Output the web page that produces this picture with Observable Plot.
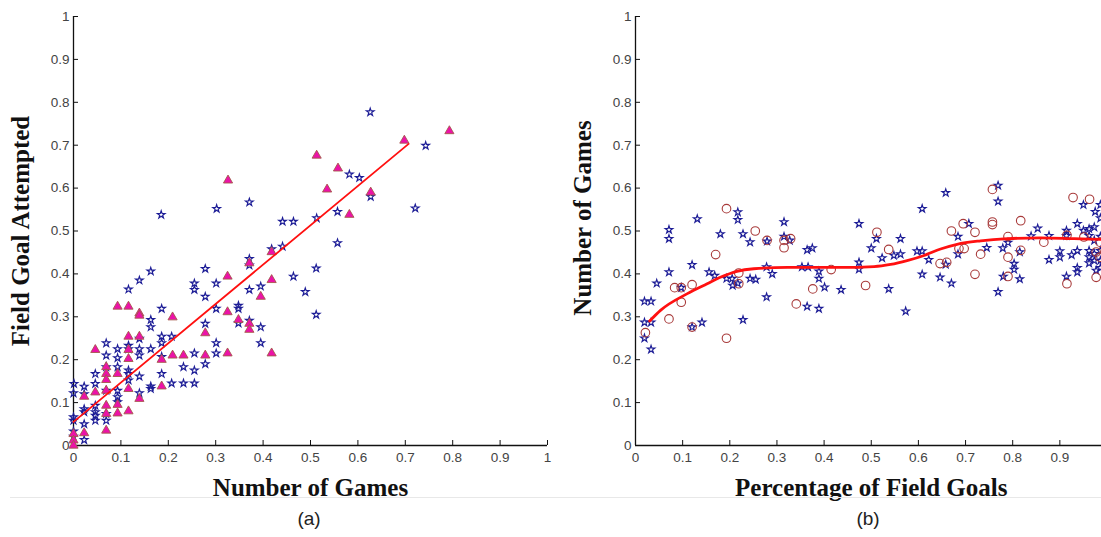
<!DOCTYPE html>
<html><head><meta charset="utf-8">
<script src="https://cdn.jsdelivr.net/npm/d3@7"></script>
<script src="https://cdn.jsdelivr.net/npm/@observablehq/plot@0.6"></script>
<style>
html,body{margin:0;padding:0;background:#fff;}
#fig{position:relative;width:1101px;height:537px;overflow:hidden;background:#fff;}
#pa,#pb{position:absolute;top:0;width:560px;height:500px;}
#pa svg,#pb svg{max-width:none !important;}
#pa{left:0;} #pb{left:560px;}
.sep{position:absolute;top:497px;height:1px;background:#e8e8e8;}
.cap{position:absolute;top:508px;font:19px "Liberation Sans",Arial,sans-serif;color:#222;transform:translateX(-50%);white-space:nowrap;}
</style></head><body>
<div id="fig">
 <div id="pa"></div><div id="pb"></div>
 <div class="sep" style="left:10px;width:1091px"></div>
 <div class="cap" style="left:309px">(a)</div>
 <div class="cap" style="left:868px">(b)</div>
</div>
<script>
const tickValues = [0,0.1,0.2,0.3,0.4,0.5,0.6,0.7,0.8,0.9,1];
// panel (b)'s x-axis is cut at the figure's right edge: its "1" is not shown
const bXTickValues = [0,0.1,0.2,0.3,0.4,0.5,0.6,0.7,0.8,0.9];

// Panel (a)
const aXTitle = "Number of Games";
const aYTitle = "Field Goal Attempted";
const aStars = [
[0.001,0.144],[0,0.122],[0,0.066],[0,0.058],[0,0.033],[0,0.021],
[0.0225,0.1375],[0.0225,0.12],[0.0225,0.085],[0.0225,0.078],[0.0225,0.05],[0.0225,0.013],
[0.046,0.167],[0.046,0.144],[0.046,0.093],[0.046,0.078],[0.046,0.07],[0.046,0.058],
[0.069,0.2385],[0.069,0.21],[0.069,0.183],[0.069,0.128],[0.069,0.074],[0.069,0.058],
[0.093,0.225],[0.093,0.204],[0.093,0.183],[0.093,0.128],[0.093,0.113],[0.093,0.101],
[0.116,0.364],[0.116,0.233],[0.116,0.225],[0.116,0.175],[0.116,0.167],[0.116,0.152],
[0.139,0.385],[0.139,0.249],[0.139,0.225],[0.139,0.21],[0.139,0.161],[0.139,0.122],
[0.163,0.406],[0.163,0.293],[0.163,0.276],[0.163,0.225],[0.163,0.138],[0.163,0.132],
[0.186,0.319],[0.186,0.254],[0.186,0.239],[0.186,0.207],[0.186,0.167],
[0.207,0.254],[0.207,0.145],[0.232,0.183],[0.232,0.145],
[0.255,0.378],[0.255,0.363],[0.255,0.215],[0.255,0.175],[0.255,0.145],
[0.278,0.412],[0.278,0.347],[0.278,0.284],[0.278,0.19],
[0.301,0.378],[0.301,0.319],[0.301,0.239],[0.301,0.215],
[0.348,0.326],[0.348,0.319],[0.348,0.285],
[0.371,0.435],[0.371,0.42],[0.371,0.363],[0.371,0.291],
[0.395,0.371],[0.395,0.276],[0.395,0.239],
[0.418,0.458],[0.441,0.464],[0.441,0.522],[0.464,0.522],[0.464,0.394],[0.489,0.358],
[0.512,0.413],[0.512,0.305],[0.513,0.530],[0.557,0.545],[0.557,0.472],[0.582,0.632],
[0.603,0.624],[0.627,0.580],[0.626,0.777],[0.721,0.553],[0.743,0.699],
[0.185,0.538],[0.302,0.552],[0.371,0.567]
];
const aTriangles = [
[0,0.027],[0,0.012],[0,0],
[0.0225,0.114],[0.0225,0.029],
[0.046,0.223],[0.046,0.124],
[0.069,0.183],[0.069,0.167],[0.069,0.153],[0.069,0.128],[0.069,0.093],[0.069,0.074],[0.069,0.035],
[0.093,0.324],[0.093,0.167],[0.093,0.095],[0.093,0.075],
[0.116,0.324],[0.116,0.254],[0.116,0.223],[0.116,0.202],[0.116,0.132],[0.116,0.08],
[0.139,0.308],[0.139,0.303],[0.139,0.254],[0.139,0.109],
[0.186,0.2],[0.186,0.138],[0.209,0.299],[0.209,0.21],[0.232,0.21],
[0.278,0.262],[0.278,0.21],[0.325,0.394],[0.325,0.311],[0.325,0.215],[0.348,0.293],
[0.371,0.425],[0.371,0.284],[0.371,0.27],[0.395,0.347],
[0.418,0.451],[0.418,0.386],[0.418,0.215],
[0.326,0.618],[0.513,0.676],[0.558,0.646],[0.535,0.597],[0.627,0.590],[0.582,0.538],
[0.698,0.711],[0.793,0.733]
];
const aFitX = [0, 0.707];
const aFitY = [0.055, 0.703];

// Panel (b)
const bXTitle = "Percentage of Field Goals";
const bYTitle = "Number of Games";
const bStars = [
[0.019,0.336],[0.033,0.336],[0.045,0.378],[0.071,0.503],[0.071,0.482],[0.071,0.404],
[0.12,0.421],[0.131,0.528],[0.156,0.404],[0.168,0.396],[0.18,0.493],[0.193,0.389],
[0.205,0.389],[0.206,0.373],[0.217,0.544],[0.217,0.526],[0.217,0.378],[0.228,0.493],
[0.243,0.474],[0.243,0.389],[0.255,0.387],[0.278,0.346],[0.278,0.416],[0.279,0.476],
[0.29,0.40],[0.315,0.521],[0.315,0.487],[0.327,0.478],[0.353,0.416],[0.364,0.456],
[0.375,0.46],[0.366,0.416],[0.389,0.406],[0.389,0.389],[0.401,0.369],[0.436,0.363],
[0.364,0.324],[0.389,0.319],[0.474,0.517],[0.474,0.427],[0.474,0.411],
[0.019,0.287],[0.033,0.287],[0.019,0.25],[0.033,0.224],[0.12,0.276],[0.141,0.287],
[0.228,0.293],[0.097,0.368],
[0.511,0.482],[0.5,0.46],[0.523,0.437],[0.548,0.443],[0.562,0.482],[0.562,0.446],
[0.537,0.365],[0.573,0.313],[0.608,0.552],[0.597,0.453],[0.608,0.453],[0.622,0.433],
[0.608,0.399],[0.646,0.392],[0.658,0.589],[0.658,0.422],[0.670,0.378],[0.684,0.487],
[0.684,0.446],[0.707,0.517],[0.745,0.461],[0.769,0.606],[0.769,0.569],[0.769,0.358],
[0.779,0.46],[0.79,0.473],[0.803,0.424],[0.803,0.41],[0.78,0.394],[0.815,0.451],
[0.815,0.388],[0.839,0.488],[0.853,0.506],[0.877,0.489],[0.877,0.433],[0.9,0.453],
[0.9,0.439],[0.914,0.501],[0.914,0.489],[0.914,0.394],[0.925,0.444],[0.937,0.517],
[0.937,0.454],[0.937,0.414],[0.937,0.404],[0.95,0.561],[0.95,0.501],[0.962,0.505],
[0.962,0.489],[0.962,0.454],[0.962,0.439],[0.962,0.425],[0.973,0.509],[0.973,0.478],
[0.973,0.447],[0.973,0.431],[0.975,0.545],[0.977,0.408],[0.986,0.561],[0.986,0.53],
[0.986,0.487],[0.986,0.454],[0.986,0.431],[0.986,0.414]
];
const bCircles = [
[0.193,0.552],[0.17,0.445],[0.083,0.368],[0.097,0.368],[0.12,0.375],[0.097,0.334],
[0.219,0.402],[0.219,0.377],[0.254,0.50],[0.279,0.478],[0.315,0.478],[0.315,0.461],
[0.329,0.482],[0.341,0.33],[0.376,0.365],[0.415,0.41],
[0.021,0.263],[0.071,0.295],[0.12,0.276],[0.193,0.25],
[0.488,0.373],[0.512,0.497],[0.537,0.457],[0.646,0.424],[0.660,0.427],[0.67,0.50],
[0.686,0.459],[0.697,0.459],[0.695,0.517],[0.72,0.497],[0.72,0.399],[0.732,0.446],
[0.757,0.597],[0.757,0.521],[0.757,0.515],[0.79,0.487],[0.79,0.439],[0.79,0.394],
[0.817,0.524],[0.817,0.455],[0.866,0.474],[0.915,0.49],[0.915,0.377],[0.928,0.578],
[0.963,0.574],[0.951,0.486],[0.977,0.451],[0.985,0.474],[0.977,0.392],[0.985,0.439]
];
const bCurveX = [0.03,0.053,0.11,0.152,0.18,0.215,0.251,0.322,0.435,0.506,0.541,0.576,0.612,0.647,0.682,0.732,0.789,0.859,0.93,1.0];
const bCurveY = [0.29,0.315,0.354,0.377,0.392,0.406,0.412,0.415,0.415,0.417,0.422,0.431,0.443,0.458,0.469,0.477,0.482,0.484,0.482,0.48];

const toPts = arr => arr.map(([x, y]) => ({x, y}));
const zipXY = (xs, ys) => xs.map((x, i) => ({x, y: ys[i]}));

const STAR = {symbol: "star", r: 2.4, stroke: "#1c1c96", fill: "none", strokeWidth: 1.15};
const TITLE = {fontSize: 25, fontWeight: "bold", fontFamily: "Liberation Serif, Times New Roman, serif", fill: "#111", textAnchor: "middle", lineAnchor: "middle"};

function panel({marginLeft, marginRight, points, line, lineWidth, curve, xTitle, yTitle, yTitleDy, xTicks}) {
  const plotH = 429;
  const plotW = 560 - marginLeft - marginRight;
  return Plot.plot({
    width: 560, height: 500,
    marginLeft, marginRight, marginTop: 16, marginBottom: 55,
    style: {fontFamily: "Liberation Sans, Arial, sans-serif", fontSize: "13px", color: "#444", background: "transparent", overflow: "visible", maxWidth: "none"},
    x: {domain: [0, 1]},
    y: {domain: [0, 1]},
    marks: [
      Plot.axisX({ticks: xTicks, tickSize: 0, tickPadding: 7, tickFormat: d => String(d), label: null, fontSize: 13.5}),
      Plot.axisY({ticks: tickValues, tickSize: 0, tickPadding: 4, tickFormat: d => String(d), label: null, fontSize: 13.5}),
      Plot.ruleX(xTicks, {x: d => d, y1: 0, y2: 5 / plotH, stroke: "#111", strokeWidth: 1}),
      Plot.ruleY(tickValues, {y: d => d, x1: 0, x2: 5 / plotW, stroke: "#111", strokeWidth: 1}),
      Plot.ruleY([0], {x1: 0, x2: 1, stroke: "#111", strokeWidth: 1.3}),
      Plot.ruleX([0], {y1: 0, y2: 1, stroke: "#111", strokeWidth: 1.3}),
      ...points,
      Plot.line(line, {x: "x", y: "y", stroke: "#ff1010", strokeWidth: lineWidth, curve}),
      Plot.text([xTitle], {text: d => d, frameAnchor: "bottom", dy: 42, ...TITLE}),
      Plot.text([yTitle], {text: d => d, frameAnchor: "left", dx: -53, dy: yTitleDy, rotate: -90, ...TITLE})
    ]
  });
}

document.getElementById("pa").append(panel({
  marginLeft: 73, marginRight: 13, xTicks: tickValues,
  points: [
    Plot.dot(toPts(aStars), {x: "x", y: "y", ...STAR}),
    Plot.dot(toPts(aTriangles), {x: "x", y: "y", symbol: "triangle", r: 3.4, fill: "#ec12a8", stroke: "#a4584a", strokeWidth: 0.9})
  ],
  line: zipXY(aFitX, aFitY), lineWidth: 1.8, curve: "linear",
  xTitle: aXTitle, yTitle: aYTitle, yTitleDy: 0
}));

document.getElementById("pb").append(panel({
  marginLeft: 75, marginRight: 13.5, xTicks: bXTickValues,
  points: [
    Plot.dot(toPts(bStars), {x: "x", y: "y", ...STAR}),
    Plot.dot(toPts(bCircles), {x: "x", y: "y", r: 4.3, stroke: "#a83a3a", fill: "none", strokeWidth: 1.1})
  ],
  line: zipXY(bCurveX, bCurveY), lineWidth: 2.8, curve: "monotone-x",
  xTitle: bXTitle, yTitle: bYTitle, yTitleDy: -13
}));
</script>
</body></html>
